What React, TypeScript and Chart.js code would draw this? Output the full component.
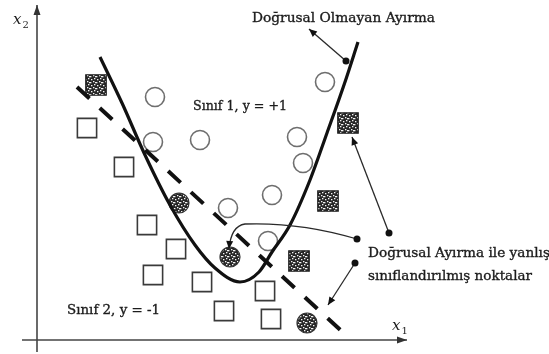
import React, { useEffect, useRef } from "react";
import { Chart, registerables } from "chart.js";

Chart.register(...registerables);

// Coordinates in the (x1, x2) plane; origin at the axes' intersection.
const class1Points: number[][] = [
  [118, 243], [116, 198], [163, 200], [288, 258], [260, 203],
  [266, 177], [235, 145], [191, 132], [231, 99],
];
const class2Points: number[][] = [
  [50, 212], [87, 173], [110, 115], [139, 91], [116, 65],
  [165, 58], [187, 29], [228, 49], [234, 21],
];
// Samples that the straight separator puts on the wrong side
const class1Misclassified: number[][] = [[142, 137], [193, 83], [270, 17]];
const class2Misclassified: number[][] = [[59, 255], [311, 217], [291, 139], [262, 79]];

// Nonlinear decision boundary (U-shaped curve)
const nonlinearBoundary: number[][] = [
  [63, 283], [85, 237], [108, 185], [133, 135], [158, 95], [178, 72],
  [203, 58], [222, 68], [235, 88], [253, 115], [273, 160], [290, 207],
  [308, 258], [321, 298],
];
// Linear decision boundary (dashed)
const linearBoundary: number[][] = [[40, 253], [311, 3]];

// Axes
const axisX1: number[][] = [[-15, 0], [370, 0]];
const axisX2: number[][] = [[0, -12], [0, 335]];

// Callout pointers: dot at start, arrowhead at end
const straightPointers: { from: number[]; to: number[] }[] = [
  { from: [309, 279], to: [272, 311] },
  { from: [352, 107], to: [315, 203] },
  { from: [318, 77], to: [291, 35] },
];
const curvedPointer = {
  from: [320, 101],
  c1: [263, 118],
  mid: [208, 116],
  c2: [194, 114],
  to: [192, 91],
};

// Text labels: [text, x, x2, width in px]
const labels: [string, number, number, number][] = [
  ["Doğrusal Olmayan Ayırma", 215, 322, 183],
  ["Sınıf 1, y = +1", 156, 234, 94],
  ["Sınıf 2, y = -1", 30, 30, 93],
  ["Doğrusal Ayırma ile yanlış", 331, 87, 182],
  ["sınıflandırılmış noktalar", 331, 64, 164],
];
const axisLabels: [string, string, number, number][] = [
  ["x", "2", -24, 320],
  ["x", "1", 355, 14],
];

const INK = "#1c1c1c";

function makeSpeckle(): CanvasPattern | string {
  const c = document.createElement("canvas");
  c.width = 6;
  c.height = 6;
  const g = c.getContext("2d");
  if (!g) return "#555";
  g.fillStyle = "#262626";
  g.fillRect(0, 0, 6, 6);
  g.fillStyle = "#f4f4f4";
  const spots = [[1, 1], [4, 0], [3, 3], [0, 4], [5, 4]];
  spots.forEach(([sx, sy]) => g.fillRect(sx, sy, 1.4, 1.3));
  const ctx = document.createElement("canvas").getContext("2d");
  const p = ctx ? ctx.createPattern(c, "repeat") : null;
  return p || "#555";
}

const toXY = (arr: number[][]) => arr.map(([x, y]) => ({ x, y }));

const annotationPlugin = {
  id: "diagramAnnotations",
  afterDatasetsDraw(chart: any) {
    const { ctx } = chart;
    const sx = chart.scales.x;
    const sy = chart.scales.y;
    const P = (p: number[]) => [sx.getPixelForValue(p[0]), sy.getPixelForValue(p[1])];

    const arrowHead = (tip: number[], from: number[], len: number, half: number) => {
      const ang = Math.atan2(tip[1] - from[1], tip[0] - from[0]);
      ctx.beginPath();
      ctx.moveTo(tip[0], tip[1]);
      ctx.lineTo(tip[0] - len * Math.cos(ang) + half * Math.sin(ang), tip[1] - len * Math.sin(ang) - half * Math.cos(ang));
      ctx.lineTo(tip[0] - len * Math.cos(ang) - half * Math.sin(ang), tip[1] - len * Math.sin(ang) + half * Math.cos(ang));
      ctx.closePath();
      ctx.fill();
    };
    const dot = (p: number[]) => {
      ctx.beginPath();
      ctx.arc(p[0], p[1], 3.5, 0, Math.PI * 2);
      ctx.fill();
    };

    ctx.save();
    // axes
    ctx.strokeStyle = "#444";
    ctx.fillStyle = "#333";
    ctx.lineWidth = 1.6;
    [axisX1, axisX2].forEach((ax) => {
      const a = P(ax[0]);
      const b = P(ax[1]);
      ctx.beginPath();
      ctx.moveTo(a[0], a[1]);
      ctx.lineTo(b[0], b[1]);
      ctx.stroke();
      arrowHead(b, a, 10, 3.5);
    });

    // pointers
    ctx.strokeStyle = "#2a2a2a";
    ctx.fillStyle = "#111";
    ctx.lineWidth = 1.3;
    straightPointers.forEach(({ from, to }) => {
      const a = P(from);
      const b = P(to);
      ctx.beginPath();
      ctx.moveTo(a[0], a[1]);
      ctx.lineTo(b[0], b[1]);
      ctx.stroke();
      dot(a);
      arrowHead(b, a, 8, 3.5);
    });
    {
      const a = P(curvedPointer.from);
      const c1 = P(curvedPointer.c1);
      const m = P(curvedPointer.mid);
      const c2 = P(curvedPointer.c2);
      const b = P(curvedPointer.to);
      ctx.beginPath();
      ctx.moveTo(a[0], a[1]);
      ctx.quadraticCurveTo(c1[0], c1[1], m[0], m[1]);
      ctx.quadraticCurveTo(c2[0], c2[1], b[0], b[1]);
      ctx.stroke();
      dot(a);
      arrowHead(b, c2, 8, 3.5);
    }

    // labels, each fitted to its measured width
    ctx.fillStyle = INK;
    ctx.strokeStyle = INK;
    ctx.lineWidth = 0.35;
    ctx.textBaseline = "middle";
    ctx.textAlign = "left";
    ctx.font = "13.5px 'DejaVu Serif'";
    labels.forEach(([t, x, y, w]) => {
      const p = P([x, y]);
      const k = w / ctx.measureText(t).width;
      ctx.save();
      ctx.translate(p[0], p[1]);
      ctx.scale(k, 1);
      ctx.fillText(t, 0, 0);
      ctx.strokeText(t, 0, 0);
      ctx.restore();
    });
    axisLabels.forEach(([v, sub, x, y]) => {
      const p = P([x, y]);
      ctx.font = "italic 15px 'DejaVu Serif'";
      ctx.fillText(v, p[0], p[1]);
      const w = ctx.measureText(v).width;
      ctx.font = "10px 'DejaVu Serif'";
      ctx.fillText(sub, p[0] + w + 1, p[1] + 5);
    });
    ctx.restore();
  },
};

export default function App() {
  const ref = useRef<HTMLCanvasElement | null>(null);

  useEffect(() => {
    if (!ref.current) return;
    const speckle = makeSpeckle();
    const chart = new Chart(ref.current, {
      type: "scatter",
      data: {
        datasets: [
          {
            label: "Doğrusal Olmayan Ayırma",
            data: toXY(nonlinearBoundary),
            showLine: true,
            borderColor: "#111",
            borderWidth: 3.2,
            cubicInterpolationMode: "monotone",
            pointRadius: 0,
            order: 0,
          } as any,
          {
            label: "Doğrusal Ayırma",
            data: toXY(linearBoundary),
            showLine: true,
            borderColor: "#111",
            borderWidth: 4,
            borderDash: [17, 14],
            borderCapStyle: "butt",
            pointRadius: 0,
            order: 0,
          } as any,
          {
            label: "Sınıf 1",
            data: toXY(class1Points),
            pointStyle: "circle",
            pointRadius: 9.5,
            backgroundColor: "rgba(255,255,255,0)",
            borderColor: "#6e6e6e",
            borderWidth: 1.6,
            order: 2,
          },
          {
            label: "Sınıf 2",
            data: toXY(class2Points),
            pointStyle: "rect",
            pointRadius: 13.6,
            backgroundColor: "rgba(255,255,255,0)",
            borderColor: "#3a3a3a",
            borderWidth: 1.6,
            order: 2,
          },
          {
            label: "Sınıf 1 (yanlış)",
            data: toXY(class1Misclassified),
            pointStyle: "circle",
            pointRadius: 10,
            backgroundColor: speckle as any,
            borderColor: "#333",
            borderWidth: 1.2,
            order: 1,
          },
          {
            label: "Sınıf 2 (yanlış)",
            data: toXY(class2Misclassified),
            pointStyle: "rect",
            pointRadius: 14.5,
            backgroundColor: speckle as any,
            borderColor: "#222",
            borderWidth: 1.2,
            order: 1,
          },
        ],
      },
      options: {
        responsive: false,
        animation: false,
        events: [],
        layout: { padding: 0, autoPadding: false },
        scales: {
          x: { type: "linear", min: -37, max: 512, display: false },
          y: { type: "linear", min: -14, max: 340, display: false },
        },
        plugins: {
          legend: { display: false },
          tooltip: { enabled: false },
        },
      },
      plugins: [annotationPlugin],
    });
    return () => chart.destroy();
  }, []);

  return (
    <div style={{ position: "absolute", left: 0, top: 0, width: 549, height: 354, background: "#fff" }}>
      <canvas ref={ref} width={549} height={354} />
    </div>
  );
}
